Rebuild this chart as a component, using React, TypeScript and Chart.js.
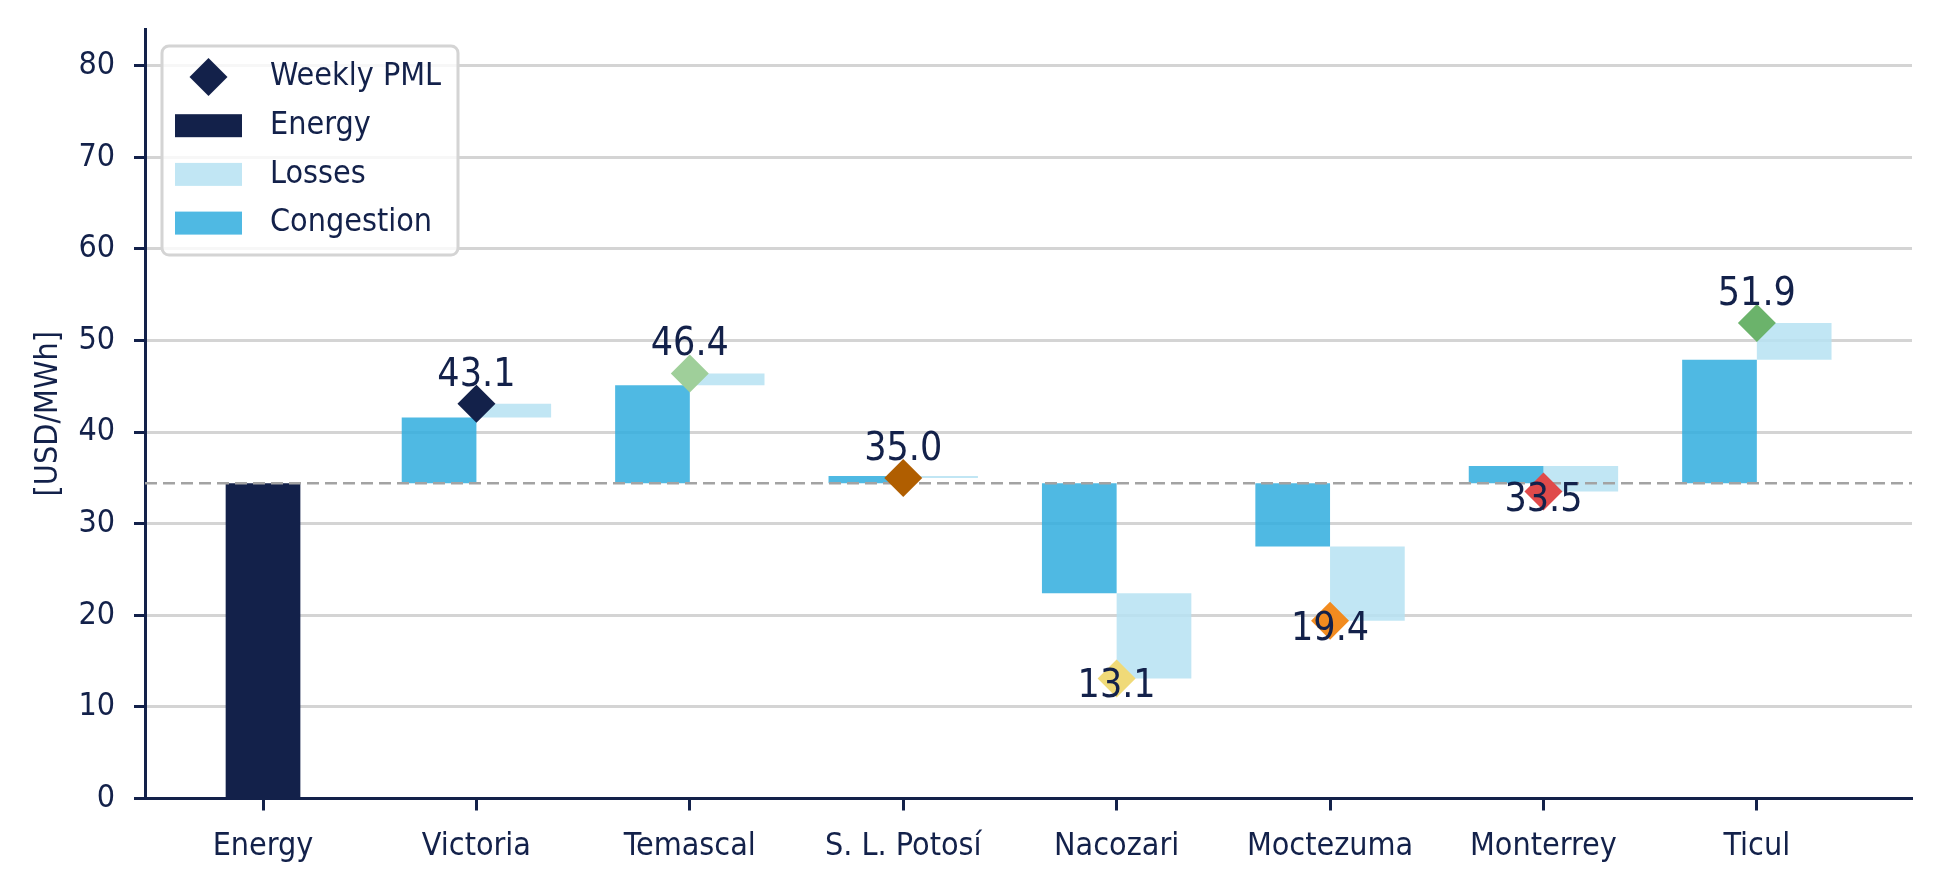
import React, { useEffect, useRef } from 'react';
import { Chart, registerables } from 'chart.js';

Chart.register(...registerables);

// ---------------- data ----------------
const categories = ['Energy', 'Victoria', 'Temascal', 'S. L. Potosí', 'Nacozari', 'Moctezuma', 'Monterrey', 'Ticul'];
const energyValue = 34.4;
const congestion: (number | null)[] = [null, 7.2, 10.7, 0.8, -12.0, -6.9, 1.9, 13.5];
const losses: (number | null)[] = [null, 1.5, 1.3, -0.2, -9.3, -8.1, -2.8, 4.0];
const weeklyPml: (number | null)[] = [null, 43.1, 46.4, 35.0, 13.1, 19.4, 33.5, 51.9];
const pmlColors: (string | null)[] = [null, '#13214A', '#9FCF9A', '#B05E00', '#F0DA78', '#F28B1F', '#E04A4A', '#6BB36B'];
const yTickStep = 10;
const yMin = 0;
const yMax = 84;
const xMin = -0.553;
const xMax = 7.727;

// ---------------- styles ----------------
const NAVY = '#13214A';
const CONG = 'rgba(48,173,222,0.85)';
const LOSS = 'rgba(182,226,242,0.85)';
const GRID = '#d4d4d4';
const FONT = "'DejaVu Sans Condensed', 'DejaVu Sans', sans-serif";

const energyData = categories.map((_, i) => ({ x: i, y: i === 0 ? energyValue : null }));
const congData = categories.map((_, i) => ({
  x: i,
  y: congestion[i] == null ? null : [energyValue, energyValue + (congestion[i] as number)],
}));
const lossData = categories.map((_, i) => ({
  x: i,
  y:
    losses[i] == null
      ? null
      : [
          energyValue + (congestion[i] as number),
          energyValue + (congestion[i] as number) + (losses[i] as number),
        ],
}));
const pmlIdx = categories.map((_, i) => i).filter((i) => weeklyPml[i] != null);
const pmlData = pmlIdx.map((i) => ({ x: i, y: weeklyPml[i] as number }));
const pmlPointColors = pmlIdx.map((i) => pmlColors[i] as string);

const drawDiamond = (ctx: CanvasRenderingContext2D, x: number, y: number, r: number, color: string) => {
  ctx.beginPath();
  ctx.moveTo(x, y - r);
  ctx.lineTo(x + r, y);
  ctx.lineTo(x, y + r);
  ctx.lineTo(x - r, y);
  ctx.closePath();
  ctx.fillStyle = color;
  ctx.fill();
};

const refLinePlugin = {
  id: 'energyRefLine',
  beforeDatasetDraw(chart: any, args: any) {
    if (args.index !== 0) return;
    const { ctx, chartArea, scales } = chart;
    const y = scales.y.getPixelForValue(energyValue);
    ctx.save();
    ctx.beginPath();
    ctx.setLineDash([12, 6]);
    ctx.lineWidth = 2.5;
    ctx.strokeStyle = '#a3a3a3';
    ctx.moveTo(chartArea.left, y);
    ctx.lineTo(chartArea.right, y);
    ctx.stroke();
    ctx.restore();
  },
};

const valueLabelPlugin = {
  id: 'pmlLabels',
  afterDatasetsDraw(chart: any) {
    const { ctx } = chart;
    const meta = chart.getDatasetMeta(0);
    ctx.save();
    ctx.font = `39px ${FONT}`;
    ctx.fillStyle = NAVY;
    ctx.textAlign = 'center';
    ctx.textBaseline = 'alphabetic';
    meta.data.forEach((el: any, j: number) => {
      const v = pmlData[j].y;
      const yy = v >= energyValue ? el.y - 18 : el.y + 19;
      ctx.fillText(v.toFixed(1), el.x, yy);
    });
    ctx.restore();
  },
};

const legendPlugin = {
  id: 'boxLegend',
  afterDraw(chart: any) {
    const { ctx, chartArea } = chart;
    const bx = chartArea.left + 17;
    const by = chartArea.top + 17;
    const bw = 296;
    const bh = 209;
    const r = 7;
    ctx.save();
    ctx.beginPath();
    ctx.moveTo(bx + r, by);
    ctx.lineTo(bx + bw - r, by);
    ctx.arcTo(bx + bw, by, bx + bw, by + r, r);
    ctx.lineTo(bx + bw, by + bh - r);
    ctx.arcTo(bx + bw, by + bh, bx + bw - r, by + bh, r);
    ctx.lineTo(bx + r, by + bh);
    ctx.arcTo(bx, by + bh, bx, by + bh - r, r);
    ctx.lineTo(bx, by + r);
    ctx.arcTo(bx, by, bx + r, by, r);
    ctx.closePath();
    ctx.fillStyle = 'rgba(255,255,255,0.8)';
    ctx.fill();
    ctx.lineWidth = 3;
    ctx.strokeStyle = '#d4d4d4';
    ctx.stroke();
    chart.data.datasets.forEach((ds: any, k: number) => {
      const cy = by + 31 + k * 48.7;
      const hx = bx + 13;
      const hw = 67;
      if (ds.type === 'scatter') {
        drawDiamond(ctx, hx + hw / 2, cy, 19, NAVY);
      } else {
        ctx.fillStyle = ds.backgroundColor;
        ctx.fillRect(hx, cy - 11.5, hw, 23);
      }
      ctx.fillStyle = NAVY;
      ctx.font = `32px ${FONT}`;
      ctx.textAlign = 'left';
      ctx.textBaseline = 'middle';
      ctx.fillText(ds.label, bx + 108, cy);
    });
    ctx.restore();
  },
};

export default function App() {
  const ref = useRef<HTMLCanvasElement>(null);

  useEffect(() => {
    const canvas = ref.current;
    if (!canvas) return;
    Chart.defaults.font.family = FONT;
    Chart.defaults.color = NAVY;
    const chart = new Chart(canvas, {
      type: 'bar',
      data: {
        datasets: [
          {
            type: 'scatter',
            label: 'Weekly PML',
            data: pmlData,
            pointStyle: 'rectRot',
            pointRadius: 19,
            pointHoverRadius: 19,
            pointBackgroundColor: pmlPointColors,
            pointBorderWidth: 0,
            borderWidth: 0,
            showLine: false,
            order: 0,
          } as any,
          {
            type: 'bar',
            label: 'Energy',
            data: energyData,
            backgroundColor: NAVY,
            borderWidth: 0,
            barPercentage: 0.5,
            categoryPercentage: 0.7,
            skipNull: true,
            order: 1,
          } as any,
          {
            type: 'bar',
            label: 'Losses',
            data: lossData,
            backgroundColor: LOSS,
            borderWidth: 0,
            barPercentage: 1,
            categoryPercentage: 0.7,
            skipNull: true,
            order: 3,
          } as any,
          {
            type: 'bar',
            label: 'Congestion',
            data: congData,
            backgroundColor: CONG,
            borderWidth: 0,
            barPercentage: 1,
            categoryPercentage: 0.7,
            skipNull: true,
            order: 2,
          } as any,
        ],
      },
      options: {
        animation: false,
        responsive: true,
        maintainAspectRatio: false,
        layout: { padding: { top: 29, right: 28, left: 0, bottom: 0 } },
        plugins: {
          legend: { display: false },
          tooltip: { enabled: false },
        },
        scales: {
          x: {
            type: 'linear',
            min: xMin,
            max: xMax,
            offset: false,
            grid: {
              display: true,
              offset: false,
              drawOnChartArea: false,
              drawTicks: true,
              tickLength: 12,
              tickWidth: 3,
              tickColor: NAVY,
            },
            border: { display: true, color: NAVY, width: 3 },
            ticks: {
              stepSize: 1,
              includeBounds: false,
              autoSkip: false,
              maxRotation: 0,
              padding: 17,
              color: NAVY,
              font: { size: 32, family: FONT },
              callback: (v: any) => (categories[v as number] ?? ''),
            },
            afterFit: (s: any) => {
              s.height = 92.5;
              s.paddingLeft = 0;
              s.paddingRight = 0;
            },
          } as any,
          y: {
            type: 'linear',
            min: yMin,
            max: yMax,
            grid: {
              color: GRID,
              lineWidth: 3,
              drawTicks: true,
              tickLength: 11,
              tickWidth: 3,
              tickColor: NAVY,
            },
            border: { display: true, color: NAVY, width: 3 },
            ticks: {
              stepSize: yTickStep,
              includeBounds: false,
              padding: 19,
              color: NAVY,
              font: { size: 32, family: FONT },
            },
            title: {
              display: true,
              text: '[USD/MWh]',
              color: NAVY,
              font: { size: 32, family: FONT },
              padding: { top: 29, bottom: 0 },
            },
            afterFit: (s: any) => {
              s.width = 145;
              s.paddingTop = 0;
              s.paddingBottom = 0;
            },
          } as any,
        },
      },
      plugins: [refLinePlugin, valueLabelPlugin, legendPlugin],
    });
    return () => chart.destroy();
  }, []);

  return (
    <div style={{ position: 'fixed', left: 0, top: 0, width: 1940, height: 891, background: '#fff' }}>
      <canvas ref={ref} />
    </div>
  );
}
